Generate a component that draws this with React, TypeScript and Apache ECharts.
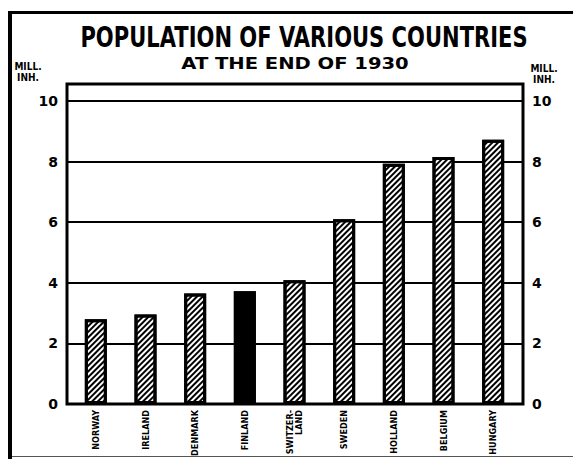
import React, { useEffect, useRef } from "react";
import * as echarts from "echarts";

const countries = ["NORWAY", "IRELAND", "DENMARK", "FINLAND", "SWITZER-\nLAND", "SWEDEN", "HOLLAND", "BELGIUM", "HUNGARY"];
const population = [2.8, 2.95, 3.65, 3.72, 4.08, 6.1, 7.93, 8.15, 8.72];
const highlighted = "FINLAND";
const yTicks = [0, 2, 4, 6, 8, 10];
const yMax = 10.56;
const titleText = "POPULATION OF VARIOUS COUNTRIES";
const subtitleText = "AT THE END OF 1930";
const unitLeft = "MILL.\nINH.";
const unitRight = "MILL.\nINH.";

export default function App() {
  const ref = useRef<HTMLDivElement>(null);
  useEffect(() => {
    if (!ref.current) return;
    const chart = echarts.init(ref.current, null, { renderer: "svg" });
    const labelFmt = (v: number) => (yTicks.indexOf(v) >= 0 ? String(v) : "");
    const yLabel = {
      color: "#000",
      fontWeight: "bold" as const,
      fontSize: 14,
      fontFamily: "'DejaVu Sans', sans-serif",
      margin: 9,
      formatter: labelFmt,
    };
    chart.setOption({
      animation: false,
      backgroundColor: "#fff",
      grid: [
        { left: 67, width: 456, top: 84, height: 320, show: true, borderColor: "#000", borderWidth: 3, backgroundColor: "transparent", containLabel: false, outerBoundsMode: "none" },
        { left: 71, width: 447, top: 84, height: 320, containLabel: false, outerBoundsMode: "none" },
      ],
      xAxis: [
        { gridIndex: 0, type: "category", data: countries, show: false },
        {
          gridIndex: 1,
          type: "category",
          data: countries,
          axisLine: { show: false },
          axisTick: { show: false },
          axisLabel: {
            rotate: 90,
            interval: 0,
            margin: 6,
            color: "#000",
            fontWeight: "bold",
            fontSize: 9,
            lineHeight: 9,
            fontFamily: "'DejaVu Sans Condensed', sans-serif",
          },
        },
      ],
      yAxis: [
        {
          gridIndex: 0, type: "value", position: "left", min: 0, max: yMax, interval: 2,
          axisLine: { show: false }, axisTick: { show: false },
          splitLine: { show: true, lineStyle: { color: "#000", width: 1.8 } },
          axisLabel: yLabel,
        },
        {
          gridIndex: 0, type: "value", position: "right", min: 0, max: yMax, interval: 2,
          axisLine: { show: false }, axisTick: { show: false },
          splitLine: { show: false },
          axisLabel: yLabel,
        },
        {
          gridIndex: 1, type: "value", min: 0, max: yMax, interval: 2,
          axisLine: { show: false }, axisTick: { show: false }, axisLabel: { show: false },
          splitLine: { show: false },
        },
      ],
      series: [
        {
          type: "bar",
          xAxisIndex: 1,
          yAxisIndex: 2,
          barWidth: 22,
          data: population.map((v, i) => {
            const dark = countries[i] === highlighted;
            return {
              value: v,
              itemStyle: {
                color: dark ? "#000" : "#fff",
                borderColor: "#000",
                borderWidth: 3,
                decal: {
                  symbol: "rect",
                  symbolSize: 1,
                  color: "#000",
                  dashArrayX: [1, 0],
                  dashArrayY: [1.8, 1.4],
                  rotation: -Math.PI / 4,
                },
              },
            };
          }),
        },
      ],
      graphic: [
        { type: "rect", shape: { x: 8, y: 11, width: 4, height: 448 }, style: { fill: "#000" } },
        { type: "rect", shape: { x: 8, y: 11, width: 565, height: 3 }, style: { fill: "#000" } },
        { type: "line", shape: { x1: 12, y1: 456.5, x2: 573, y2: 456.5 }, style: { stroke: "#555", lineWidth: 1 } },
        {
          type: "text", x: 304, y: 37, scaleX: 0.752,
          style: { text: titleText, fill: "#000", font: "bold 28px 'DejaVu Sans', sans-serif", textAlign: "center", textVerticalAlign: "middle" },
        },
        {
          type: "text", x: 295, y: 63, scaleX: 1.185,
          style: { text: subtitleText, fill: "#000", font: "bold 16.5px 'DejaVu Sans', sans-serif", textAlign: "center", textVerticalAlign: "middle" },
        },
        {
          type: "text", x: 28, y: 72,
          style: { text: unitLeft, fill: "#000", font: "bold 10px 'DejaVu Sans Condensed', sans-serif", textAlign: "center", textVerticalAlign: "middle", lineHeight: 11 },
        },
        {
          type: "text", x: 544, y: 74,
          style: { text: unitRight, fill: "#000", font: "bold 10px 'DejaVu Sans Condensed', sans-serif", textAlign: "center", textVerticalAlign: "middle", lineHeight: 11 },
        },
      ],
    });
    return () => chart.dispose();
  }, []);
  return <div ref={ref} style={{ position: "fixed", left: 0, top: 0, width: 573, height: 459 }} />;
}
